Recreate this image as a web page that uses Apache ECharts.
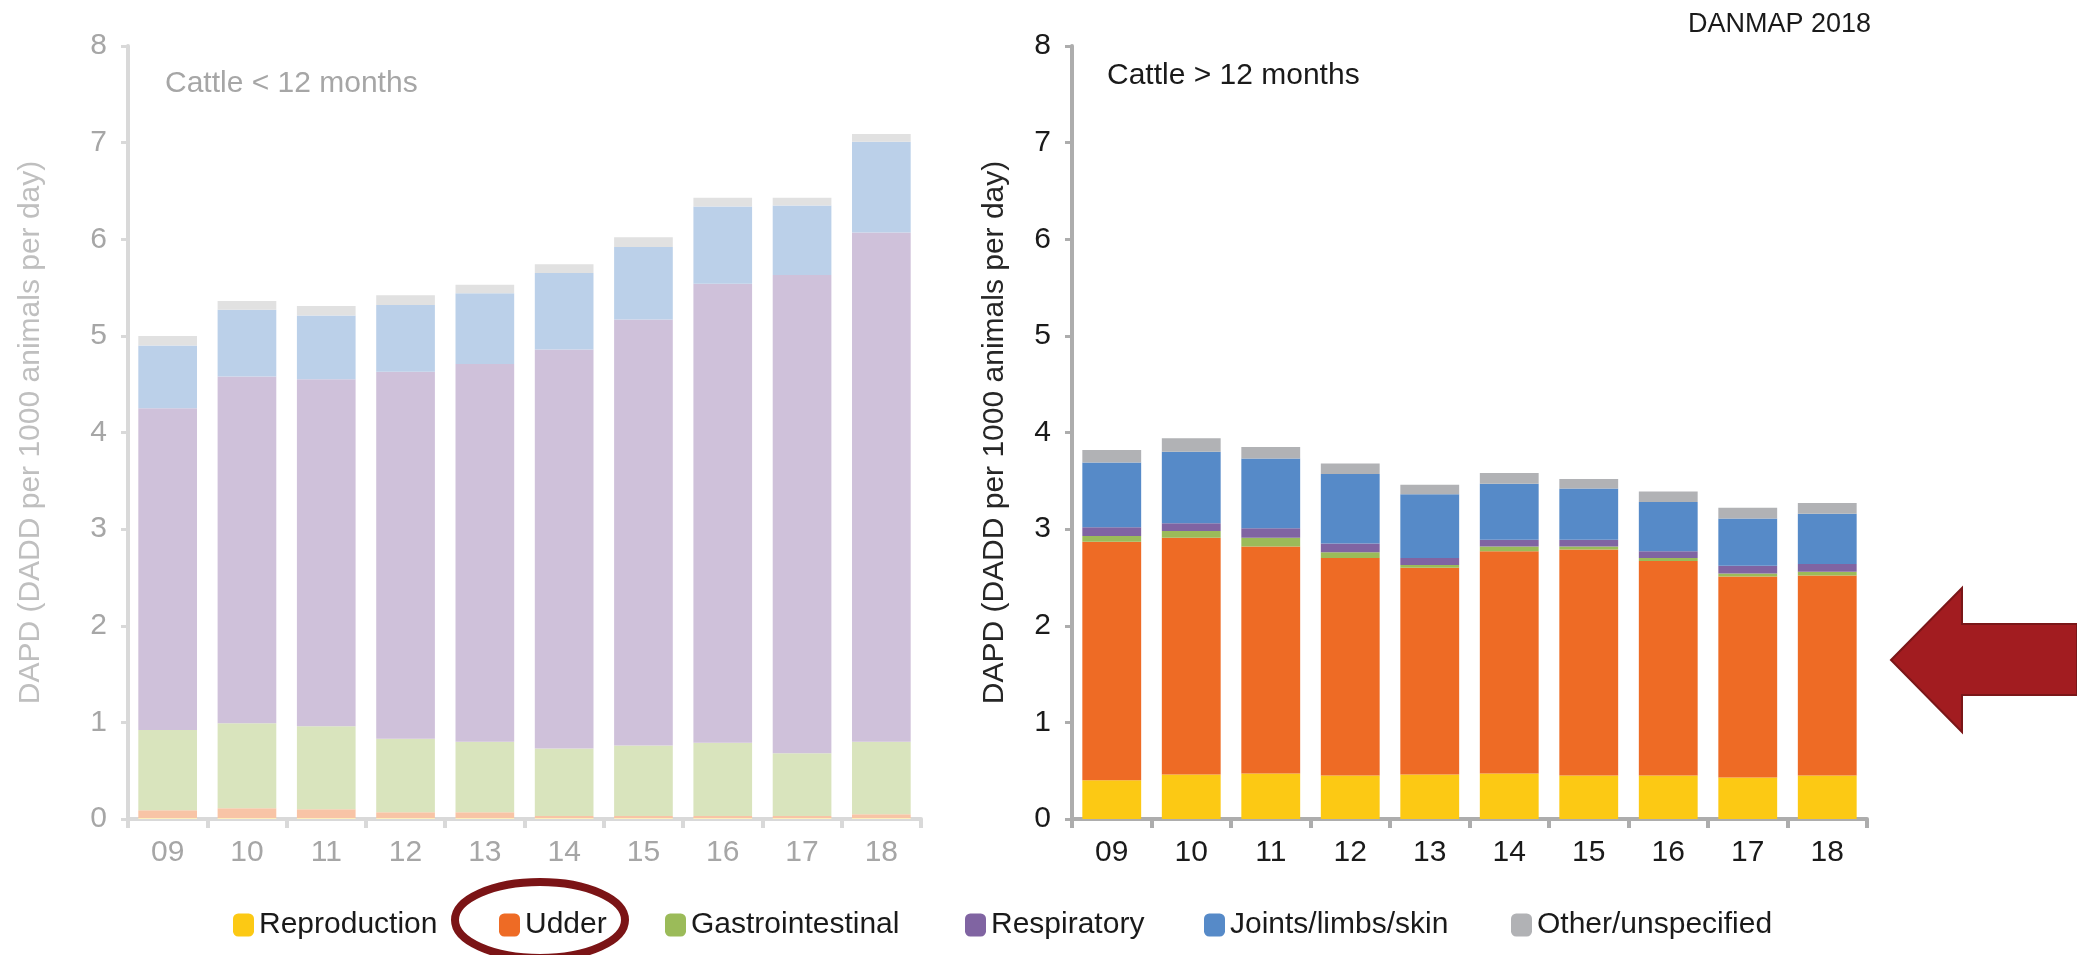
<!DOCTYPE html>
<html>
<head>
<meta charset="utf-8">
<script src="https://cdn.jsdelivr.net/npm/echarts@6/dist/echarts.min.js"></script>
<style>
html,body{margin:0;padding:0;background:#fff;}
#chart{width:2077px;height:955px;}
</style>
</head>
<body>
<div id="chart"></div>
<script>
// ---- data ----
const years = ['09','10','11','12','13','14','15','16','17','18'];
const seriesNames = ['Reproduction','Udder','Gastrointestinal','Respiratory','Joints/limbs/skin','Other/unspecified'];
const yTicks = [0,1,2,3,4,5,6,7,8];

// Cattle < 12 months
const youngReproduction = [0.01,0.01,0.01,0.01,0.01,0.01,0.01,0.01,0.01,0.01];
const youngUdder        = [0.08,0.10,0.09,0.06,0.06,0.02,0.02,0.02,0.02,0.04];
const youngGastro       = [0.83,0.88,0.86,0.76,0.73,0.70,0.73,0.76,0.65,0.75];
const youngRespiratory  = [3.33,3.59,3.59,3.80,3.91,4.13,4.41,4.75,4.95,5.27];
const youngJoints       = [0.65,0.69,0.66,0.69,0.73,0.79,0.75,0.80,0.72,0.94];
const youngOther        = [0.10,0.09,0.10,0.10,0.09,0.09,0.10,0.09,0.08,0.08];

// Cattle > 12 months
const adultReproduction = [0.40,0.46,0.47,0.45,0.46,0.47,0.45,0.45,0.43,0.45];
const adultUdder        = [2.47,2.45,2.35,2.25,2.14,2.30,2.34,2.22,2.08,2.07];
const adultGastro       = [0.06,0.07,0.09,0.06,0.03,0.05,0.03,0.03,0.03,0.04];
const adultRespiratory  = [0.09,0.08,0.10,0.09,0.07,0.07,0.07,0.07,0.08,0.08];
const adultJoints       = [0.67,0.74,0.72,0.72,0.66,0.58,0.53,0.51,0.49,0.52];
const adultOther        = [0.13,0.14,0.12,0.11,0.10,0.11,0.10,0.11,0.11,0.11];

// ---- styles ----
const FONT = "'Liberation Sans', Arial, sans-serif";
const strongColors = ['#FCC914','#EE6B25','#9BBB59','#8064A2','#568AC8','#B1B2B5'];
const fadedColors  = ['#FDEFBE','#F8C4A6','#D9E4BD','#CFC1DA','#BBD0E9','#E1E1E1'];
const legendLefts  = [228, 494, 660, 960, 1199, 1506];

const youngData = [youngReproduction, youngUdder, youngGastro, youngRespiratory, youngJoints, youngOther];
const adultData = [adultReproduction, adultUdder, adultGastro, adultRespiratory, adultJoints, adultOther];

function makeXAxis(gridIndex, axisColor, labelColor) {
  return {
    type: 'category', gridIndex: gridIndex, data: years, boundaryGap: true,
    axisLine: {show: true, lineStyle: {color: axisColor, width: 4}},
    axisTick: {show: true, length: 9, lineStyle: {color: axisColor, width: 4}},
    axisLabel: {color: labelColor, fontSize: 30, fontFamily: FONT, margin: 19}
  };
}
function makeYAxis(gridIndex, axisColor, labelColor, nameColor, nameGap) {
  return {
    type: 'value', gridIndex: gridIndex, min: yTicks[0], max: yTicks[yTicks.length-1], interval: 1,
    name: 'DAPD (DADD per 1000 animals per day)', nameLocation: 'middle', nameGap: nameGap,
    nameTextStyle: {color: nameColor, fontSize: 30, fontFamily: FONT},
    axisLine: {show: true, lineStyle: {color: axisColor, width: 4}},
    axisTick: {show: true, length: 7, lineStyle: {color: axisColor, width: 3}},
    axisLabel: {color: labelColor, fontSize: 30, fontFamily: FONT, margin: 21},
    splitLine: {show: false}
  };
}

const series = [];
adultData.forEach((arr, i) => {
  series.push({
    name: seriesNames[i], type: 'bar', stack: 'adult', xAxisIndex: 1, yAxisIndex: 1,
    data: arr, barCategoryGap: '26%', itemStyle: {color: strongColors[i]}
  });
});
youngData.forEach((arr, i) => {
  series.push({
    name: seriesNames[i], type: 'bar', stack: 'young', xAxisIndex: 0, yAxisIndex: 0,
    data: arr, barCategoryGap: '26%', itemStyle: {color: fadedColors[i]}
  });
});

const option = {
  animation: false,
  backgroundColor: '#ffffff',
  grid: [
    {left: 128, top: 46, width: 793, height: 773},
    {left: 1072, top: 46, width: 795, height: 773}
  ],
  xAxis: [
    makeXAxis(0, '#D9D9D9', '#A6A6A6'),
    makeXAxis(1, '#ADADAD', '#1A1A1A')
  ],
  yAxis: [
    makeYAxis(0, '#D9D9D9', '#A6A6A6', '#BFBFBF', 82),
    makeYAxis(1, '#ADADAD', '#1A1A1A', '#262626', 62)
  ],
  legend: seriesNames.map((n, i) => ({
    data: [n], left: legendLefts[i], top: 905, icon: 'roundRect',
    itemWidth: 21, itemHeight: 23, itemGap: 0, selectedMode: false,
    textStyle: {color: '#1A1A1A', fontSize: 30, fontFamily: FONT}
  })),
  series: series,
  graphic: [
    {type: 'text', left: 165, top: 69, style: {text: 'Cattle < 12 months', fill: '#A6A6A6', fontSize: 30, fontFamily: FONT}},
    {type: 'text', left: 1107, top: 61, style: {text: 'Cattle > 12 months', fill: '#1A1A1A', fontSize: 30, fontFamily: FONT}},
    {type: 'text', left: 1688, top: 11, style: {text: 'DANMAP 2018', fill: '#1A1A1A', fontSize: 27, fontFamily: FONT}},
    {type: 'ellipse', shape: {cx: 540, cy: 920, rx: 85, ry: 38}, style: {fill: 'none', stroke: '#7B1416', lineWidth: 8}, z: 100},
    {type: 'polygon', shape: {points: [[1891,660],[1962,588],[1962,624],[2077,624],[2077,695],[1962,695],[1962,732]]},
     style: {fill: '#A21C20', stroke: '#7A1618', lineWidth: 2}, z: 100}
  ]
};

const chart = echarts.init(document.getElementById('chart'), null, {renderer: 'canvas'});
chart.setOption(option);
</script>
</body>
</html>
